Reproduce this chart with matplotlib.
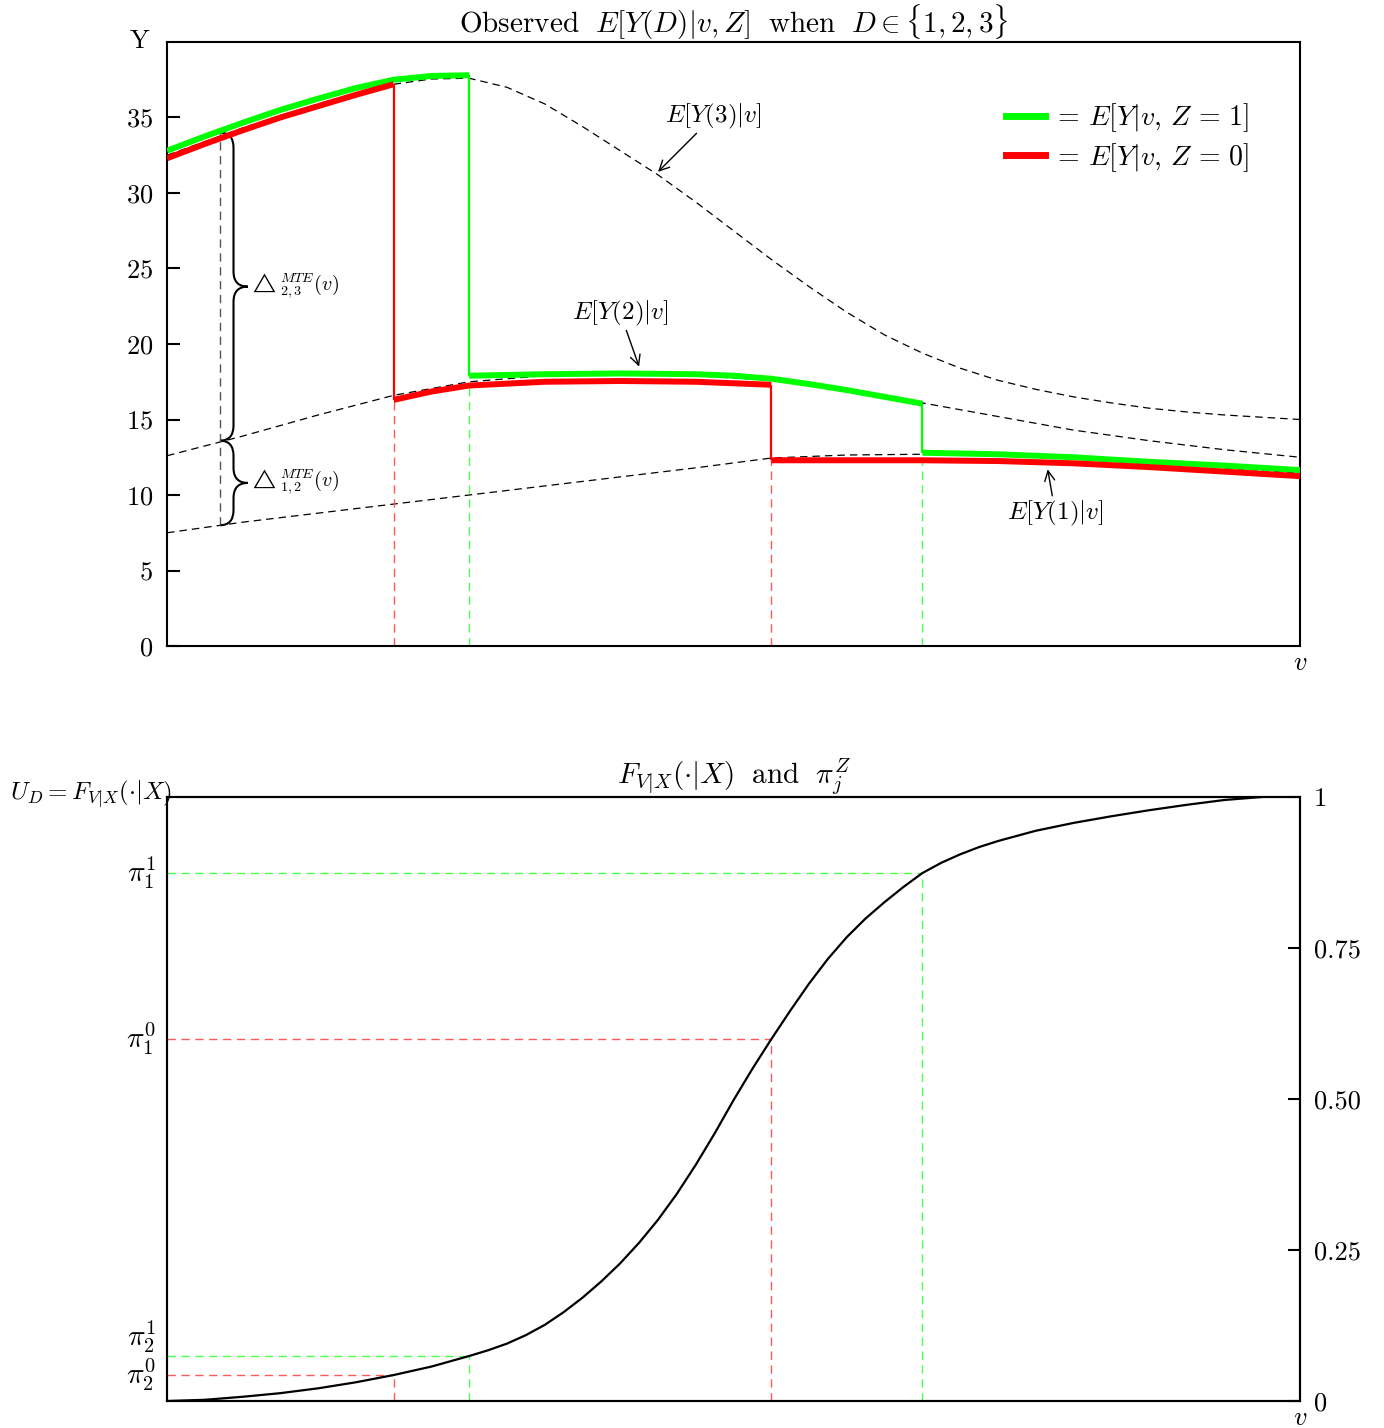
import matplotlib.pyplot as plt
from matplotlib.path import Path
from matplotlib.patches import PathPatch

plt.rcParams['font.family'] = ['cmr10']
plt.rcParams['mathtext.fontset'] = 'cm'
plt.rcParams['axes.formatter.use_mathtext'] = True

# potential outcome curves E[Y(d)|v]
v3 = [0, 0.5, 1, 1.5, 2, 2.5, 3, 3.5, 4, 4.5, 5, 5.5, 6, 6.5, 7, 7.5, 8, 8.5, 9, 9.5, 10, 10.5,
      11, 11.5, 12, 12.5, 13, 13.5, 14, 14.5, 15]
ey3 = [32.5, 33.4, 34.3, 35.1, 35.9, 36.6, 37.2, 37.55, 37.6, 37.0, 35.9, 34.4, 32.8, 31.2, 29.4,
       27.5, 25.6, 23.8, 22.1, 20.6, 19.4, 18.4, 17.6, 17.0, 16.5, 16.1, 15.75, 15.5, 15.3, 15.15, 15.0]
v2 = [0, 1, 2, 3, 4, 5, 6, 7, 8, 8.5, 9, 9.5, 10, 11, 12, 13, 14, 15]
ey2 = [12.6, 13.9, 15.3, 16.6, 17.5, 17.9, 18.0, 17.9, 17.6, 17.3, 16.9, 16.5, 16.1, 15.2, 14.3,
       13.6, 13.0, 12.5]
v1 = [0, 1, 2, 3, 4, 5, 6, 7, 8, 9, 10, 11, 12, 13, 14, 15]
ey1 = [7.5, 8.2, 8.8, 9.4, 10.0, 10.6, 11.2, 11.8, 12.45, 12.65, 12.7, 12.65, 12.45, 12.15, 11.8, 11.45]

# observed E[Y|v,Z=1] pieces (D=3, D=2, D=1)
g_v = [[0, 0.5, 1, 1.5, 2, 2.5, 3, 3.5, 4],
       [4, 5, 6, 7, 7.5, 8, 8.5, 9, 9.5, 10],
       [10, 11, 12, 13, 14, 15]]
g_y = [[32.8, 33.75, 34.65, 35.5, 36.25, 36.95, 37.5, 37.75, 37.8],
       [17.9, 18.0, 18.05, 18.0, 17.9, 17.7, 17.35, 16.95, 16.5, 16.05],
       [12.8, 12.7, 12.5, 12.2, 11.95, 11.65]]
# observed E[Y|v,Z=0]
r_v = [[0, 0.5, 1, 1.5, 2, 2.5, 3], [3, 3.5, 4, 5, 6, 7, 8], [8, 9, 10, 11, 12, 13, 14, 15]]
r_y = [[32.3, 33.25, 34.15, 35.0, 35.75, 36.5, 37.2], [16.3, 16.85, 17.25, 17.5, 17.55, 17.5, 17.3],
       [12.3, 12.3, 12.3, 12.25, 12.1, 11.85, 11.55, 11.25]]

# cdf F_{V|X}
v_cdf = [0, 0.5, 1, 1.5, 2, 2.5, 3, 3.5, 4, 4.25, 4.5, 4.75, 5, 5.25, 5.5, 5.75, 6, 6.25, 6.5, 6.75,
         7, 7.25, 7.5, 7.75, 8, 8.25, 8.5, 8.75, 9, 9.25, 9.5, 9.75, 10, 10.25, 10.5, 10.75, 11,
         11.5, 12, 12.5, 13, 13.5, 14, 14.5]
F_cdf = [0, 0.002, 0.007, 0.013, 0.021, 0.031, 0.043, 0.057, 0.0745, 0.084, 0.095, 0.109, 0.126,
         0.147, 0.171, 0.198, 0.228, 0.262, 0.300, 0.343, 0.391, 0.443, 0.498, 0.550, 0.599, 0.646,
         0.691, 0.732, 0.768, 0.799, 0.826, 0.851, 0.874, 0.891, 0.905, 0.917, 0.927, 0.944, 0.957,
         0.968, 0.978, 0.987, 0.995, 1.0]

# cutoffs
v_cut = [3, 4, 8, 10]
pi_val = [0.043, 0.0745, 0.599, 0.874]
pi_lab = [r'$\pi_2^0$', r'$\pi_2^1$', r'$\pi_1^0$', r'$\pi_1^1$']
pi_shift = [0, 14, 0, 0]
cut_col = ['#ff5a5a', '#4dff4d', '#ff5a5a', '#4dff4d']

GREEN = '#00ff00'
RED = '#ff0000'

fig = plt.figure(figsize=(13.84, 14.28), dpi=100)
ax = fig.add_axes([0.1207, 0.5476, 0.8186, 0.423])

dash = (0, (6, 4))
ax.plot(v3, ey3, color='black', lw=0.9, ls=dash)
ax.plot(v2, ey2, color='black', lw=0.9, ls=dash)
ax.plot(v1, ey1, color='black', lw=0.9, ls=dash)

for xs, ys in zip(g_v, g_y):
    ax.plot(xs, ys, color=GREEN, lw=4.3, solid_capstyle='butt', zorder=4)
for xs, ys in zip(r_v, r_y):
    ax.plot(xs, ys, color=RED, lw=4.3, solid_capstyle='butt', zorder=4)
# jumps
ax.vlines(4, g_y[1][0], g_y[0][-1], color=GREEN, lw=1.6, zorder=4)
ax.vlines(10, g_y[2][0], g_y[1][-1], color=GREEN, lw=1.6, zorder=4)
ax.vlines(3, r_y[1][0], r_y[0][-1], color=RED, lw=1.6, zorder=4)
ax.vlines(8, r_y[2][0], r_y[1][-1], color=RED, lw=1.6, zorder=4)
# dashed drops to axis
ax.vlines(3, 0, r_y[1][0], color=cut_col[0], lw=1.0, ls=dash)
ax.vlines(4, 0, ey2[4], color=cut_col[1], lw=1.0, ls=dash)
ax.vlines(8, 0, r_y[2][0], color=cut_col[2], lw=1.0, ls=dash)
ax.vlines(10, 0, g_y[2][0], color=cut_col[3], lw=1.0, ls=dash)

# braces for MTE
vb = 0.7
y_lo, y_mid, y_hi = 8.0, 13.6, 34.0
ax.vlines(vb, y_lo, y_hi, color='#555555', lw=1.0, ls=dash)


def brace(a, y0, y1, xe, xs, xt, r):
    ym = (y0 + y1) / 2
    verts = [(xe, y0), (xs, y0), (xs, y0 + r), (xs, ym - r), (xs, ym), (xt, ym),
             (xs, ym), (xs, ym + r), (xs, y1 - r), (xs, y1), (xe, y1)]
    codes = [Path.MOVETO, Path.CURVE3, Path.CURVE3, Path.LINETO, Path.CURVE3, Path.CURVE3,
             Path.CURVE3, Path.CURVE3, Path.LINETO, Path.CURVE3, Path.CURVE3]
    a.add_patch(PathPatch(Path(verts, codes), fill=False, lw=1.5, color='black'))
    return ym


m1 = brace(ax, y_mid, y_hi, vb, 0.88, 1.07, 1.0)
m2 = brace(ax, y_lo, y_mid, vb, 0.88, 1.07, 1.0)
ax.text(1.08, m1, r'$\triangle_{2,3}^{MTE}(v)$', fontsize=14.5, va='center', ha='left')
ax.text(1.08, m2, r'$\triangle_{1,2}^{MTE}(v)$', fontsize=14.5, va='center', ha='left')

arrow = dict(arrowstyle='->', color='black', lw=1.0, shrinkA=0, shrinkB=0)
ax.annotate(r'$E[Y(3)|v]$', xy=(6.5, 31.4), xytext=(7.24, 35.1), fontsize=18,
            ha='center', va='center', arrowprops=arrow)
ax.annotate(r'$E[Y(2)|v]$', xy=(6.25, 18.5), xytext=(6.0, 22.05), fontsize=18,
            ha='center', va='center', arrowprops=arrow)
ax.annotate(r'$E[Y(1)|v]$', xy=(11.66, 11.7), xytext=(11.76, 8.8), fontsize=18,
            ha='center', va='center', arrowprops=arrow)

ax.plot([], [], color=GREEN, lw=5, label=r'$=\,E[Y|v,\,Z\,=\,1]$')
ax.plot([], [], color=RED, lw=5, label=r'$=\,E[Y|v,\,Z\,=\,0]$')
ax.legend(loc='upper right', bbox_to_anchor=(0.965, 0.92), frameon=False, fontsize=20,
          handlelength=1.4, handletextpad=0.3, labelspacing=0.25, borderaxespad=0)

ax.set_xlim(0, 15)
ax.set_ylim(0, 40)
ax.set_xticks([])
ax.set_yticks(range(0, 40, 5))
ax.tick_params(axis='y', direction='in', length=9, width=1.5, labelsize=19, pad=10)
for s in ax.spines.values():
    s.set_linewidth(1.5)
ax.set_title(r'Observed $\;E[Y(D)|v,Z]\;$ when $\;D\in\{1,2,3\}$', fontsize=21, pad=5)
fig.text(0.101, 0.971, 'Y', fontsize=19, ha='center', va='center')
fig.text(0.9393, 0.5357, r'$v$', fontsize=19, ha='center', va='center')

# bottom panel
bx = fig.add_axes([0.1207, 0.0189, 0.8186, 0.423])
bx.plot(v_cdf, F_cdf, color='black', lw=1.6, zorder=3)
for vc, p, c in zip(v_cut, pi_val, cut_col):
    bx.hlines(p, 0, vc, color=c, lw=1.0, ls=dash)
    bx.vlines(vc, 0, p, color=c, lw=1.0, ls=dash)
for p, lab, dy in zip(pi_val, pi_lab, pi_shift):
    bx.annotate(lab, xy=(0, p), xycoords=('axes fraction', 'data'), xytext=(-8, dy),
                textcoords='offset points', ha='right', va='center', fontsize=21)
bx.set_xlim(0, 15)
bx.set_ylim(0, 1)
bx.set_xticks([])
bx.set_yticks([])
for s in bx.spines.values():
    s.set_linewidth(1.5)

rx = bx.twinx()
rx.set_ylim(0, 1)
rx.set_yticks([0, 0.25, 0.5, 0.75, 1])
rx.set_yticklabels(['0', '0.25', '0.50', '0.75', '1'])
rx.tick_params(axis='y', direction='in', length=9, width=1.5, labelsize=19, pad=10)
for s in rx.spines.values():
    s.set_linewidth(1.5)

bx.set_title(r'$F_{V|X}(\cdot|X)\;$ and $\;\pi_j^Z$', fontsize=21, pad=5)
fig.text(0.0072, 0.4433, r'$U_D=F_{V|X}(\cdot|X)$', fontsize=18, ha='left', va='center')
fig.text(0.9393, 0.007, r'$v$', fontsize=19, ha='center', va='center')

fig.savefig('out.png', dpi=100)
